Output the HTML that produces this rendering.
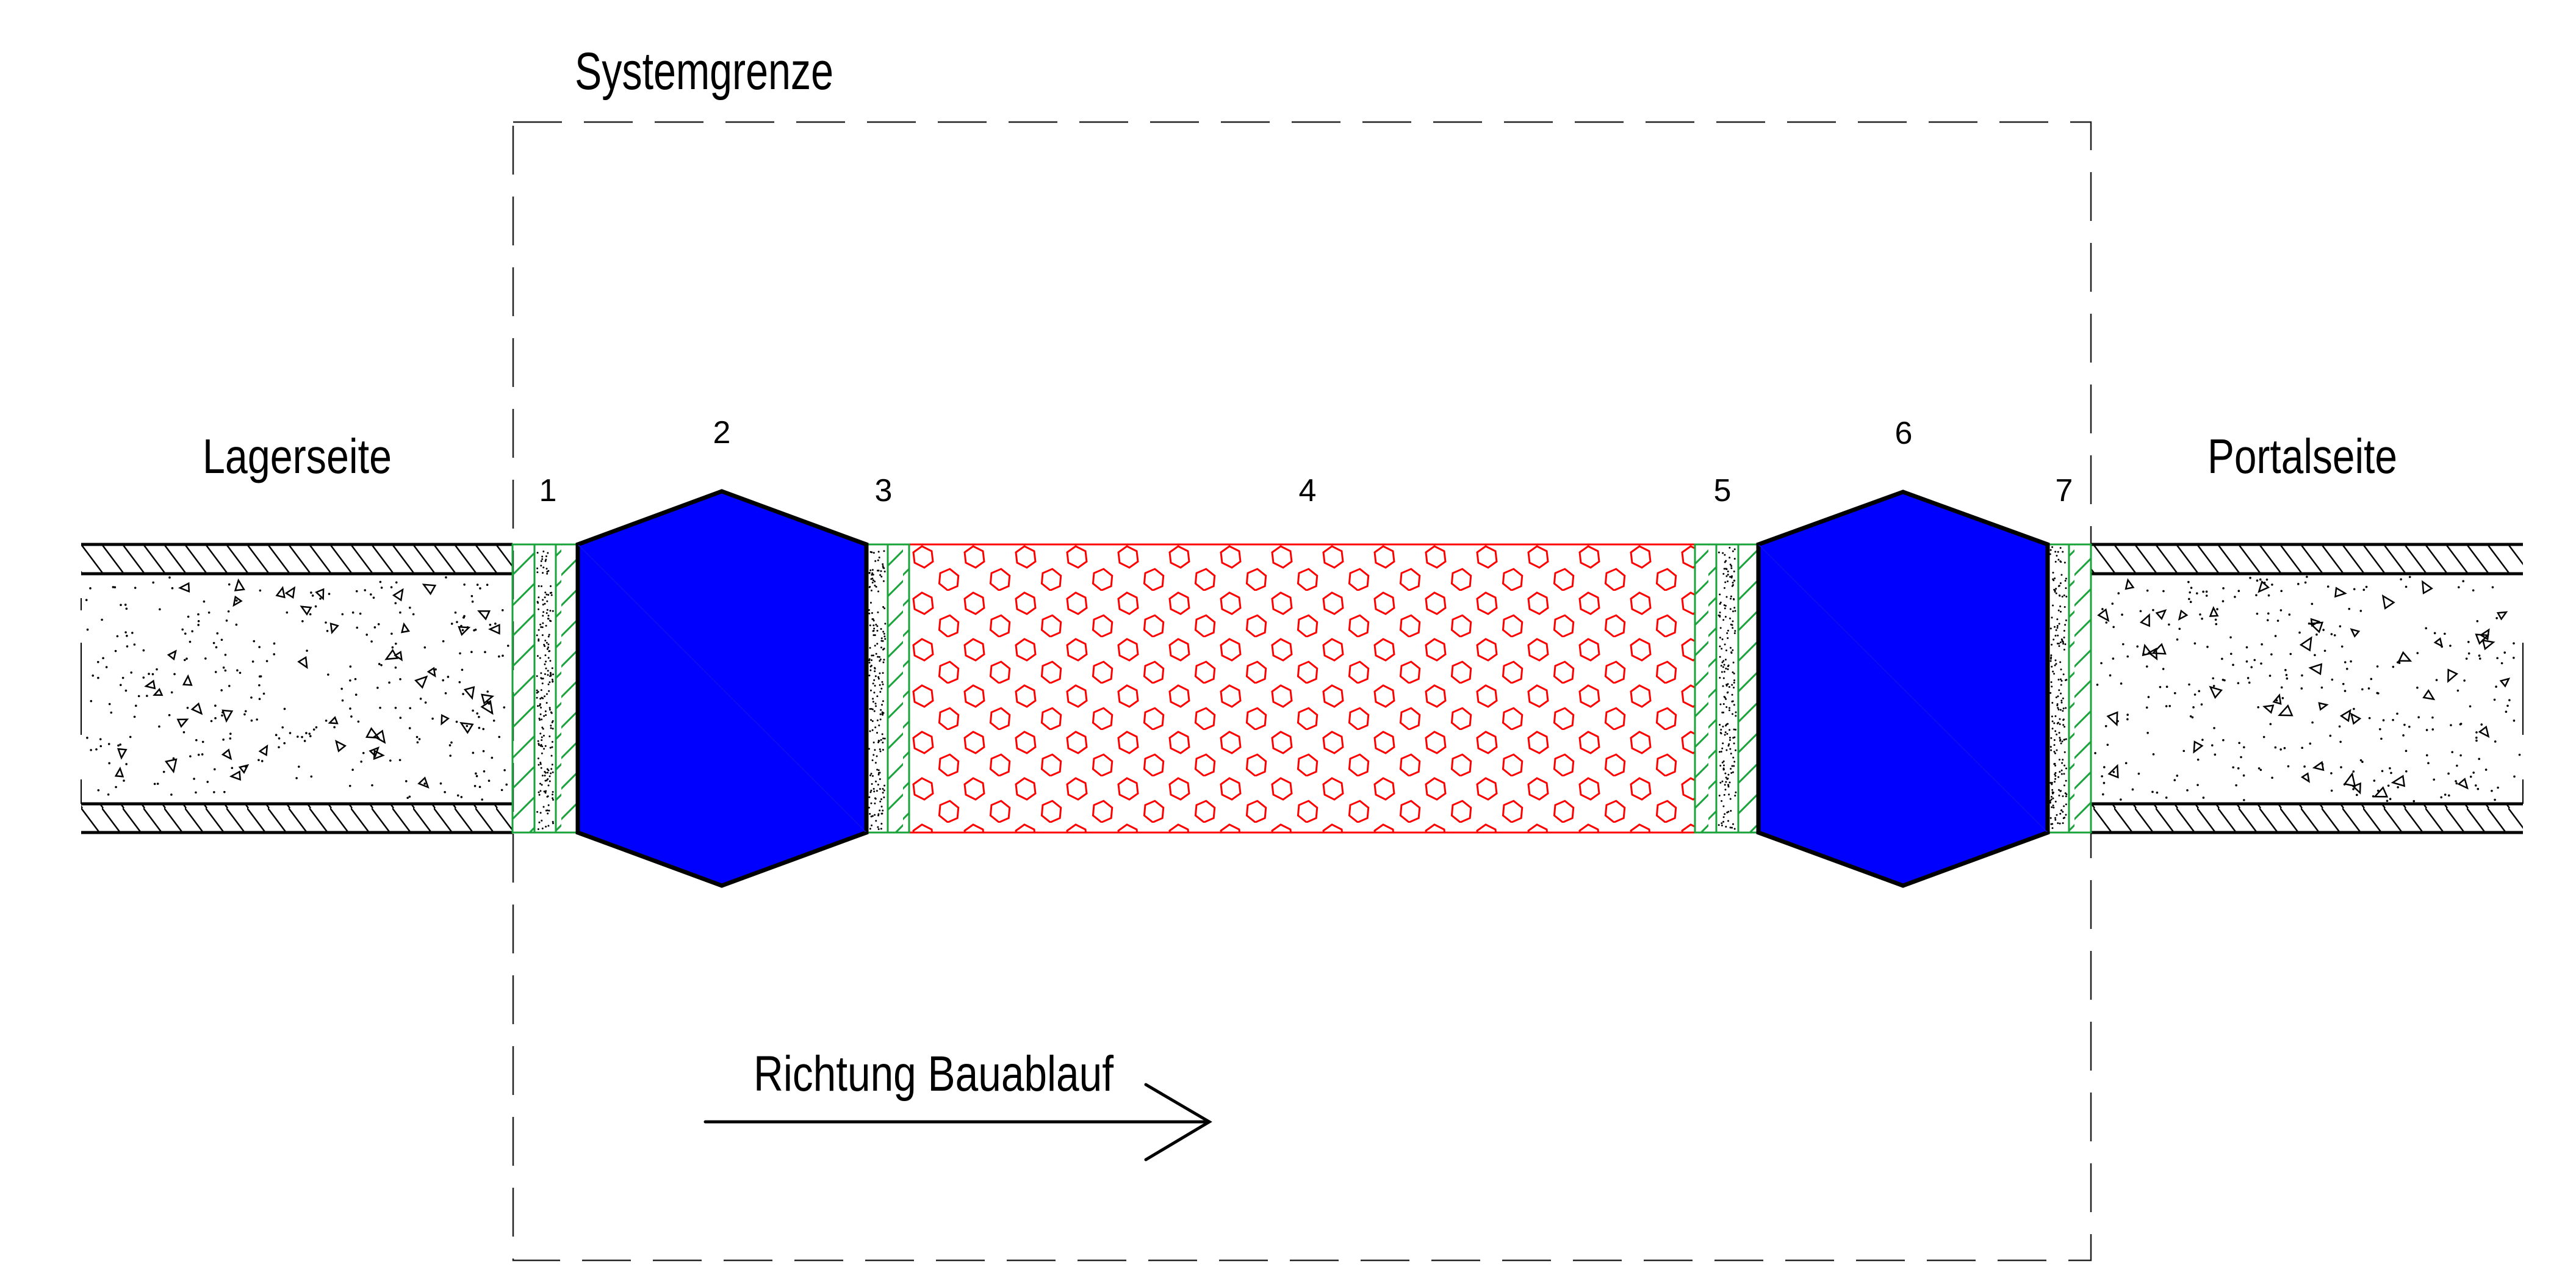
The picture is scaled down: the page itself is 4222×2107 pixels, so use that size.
<!DOCTYPE html>
<html><head><meta charset="utf-8">
<style>
html,body{margin:0;padding:0;background:#fff;}
svg{display:block;}
text{font-family:"Liberation Sans",Arial,sans-serif;fill:#000;}
</style></head>
<body>
<svg id="s" xmlns="http://www.w3.org/2000/svg" width="4222" height="2107" viewBox="0 0 4222 2107">
<defs>
  <pattern id="wallH" patternUnits="userSpaceOnUse" width="34" height="48" x="133" y="892">
    <line x1="0" y1="0" x2="36" y2="48" stroke="#000" stroke-width="2.5"/>
    <line x1="-34" y1="0" x2="2" y2="48" stroke="#000" stroke-width="2.5"/>
  </pattern>
  <pattern id="greenH" patternUnits="userSpaceOnUse" width="40" height="50" x="0" y="892">
    <line x1="-10" y1="60" x2="50" y2="0" stroke="#1aa33a" stroke-width="3"/>
    <line x1="-10" y1="10" x2="50" y2="-50" stroke="#1aa33a" stroke-width="3"/>
    <line x1="-10" y1="110" x2="50" y2="50" stroke="#1aa33a" stroke-width="3"/>
  </pattern>
  <pattern id="hexP" patternUnits="userSpaceOnUse" width="84" height="76" x="1490" y="892">
    <polygon points="19,2 35,10 37,27 23,37 7,29 5,12" fill="none" stroke="#ff0000" stroke-width="3" transform="translate(2,1)"/>
    <polygon points="19,2 35,10 37,27 23,37 7,29 5,12" fill="none" stroke="#ff0000" stroke-width="3" transform="translate(44,38) rotate(12 20 20)"/>
  </pattern>
</defs>

<rect x="841" y="200" width="2586" height="1865" fill="none" stroke="#222" stroke-width="2.5" stroke-dasharray="80 36"/>
<text x="942" y="146" font-size="86" textLength="424" lengthAdjust="spacingAndGlyphs">Systemgrenze</text>

<rect x="133" y="892" width="707" height="48" fill="url(#wallH)"/>
<rect x="133" y="1317" width="707" height="47" fill="url(#wallH)"/>
<g stroke="#000" stroke-width="5">
<line x1="133" y1="892" x2="840" y2="892"/><line x1="133" y1="940" x2="840" y2="940"/>
<line x1="133" y1="1317" x2="840" y2="1317"/><line x1="133" y1="1364" x2="840" y2="1364"/>
</g>
<g stroke="#000" stroke-width="2">
<line x1="133" y1="980" x2="133" y2="1000"/><line x1="133" y1="1053" x2="133" y2="1204"/><line x1="133" y1="1277" x2="133" y2="1317"/>
</g>
<rect x="3427" y="892" width="708" height="48" fill="url(#wallH)"/>
<rect x="3427" y="1317" width="708" height="47" fill="url(#wallH)"/>
<g stroke="#000" stroke-width="5">
<line x1="3427" y1="892" x2="4135" y2="892"/><line x1="3427" y1="940" x2="4135" y2="940"/>
<line x1="3427" y1="1317" x2="4135" y2="1317"/><line x1="3427" y1="1364" x2="4135" y2="1364"/>
</g>
<g stroke="#000" stroke-width="2">
<line x1="4135" y1="1053" x2="4135" y2="1204"/><line x1="4135" y1="1277" x2="4135" y2="1317"/>
</g>

<g id="conc"></g>

<rect x="1490" y="892" width="1288" height="472" fill="url(#hexP)"/>
<rect x="1490" y="892" width="1288" height="472" fill="none" stroke="#ff0000" stroke-width="3"/>

<g>
<rect x="840" y="892" width="36" height="472" fill="url(#greenH)"/>
<rect x="911" y="892" width="36" height="472" fill="url(#greenH)"/>
<rect x="1455" y="892" width="35" height="472" fill="url(#greenH)"/>
<rect x="2778" y="892" width="35" height="472" fill="url(#greenH)"/>
<rect x="2849" y="892" width="33" height="472" fill="url(#greenH)"/>
<rect x="3391" y="892" width="36" height="472" fill="url(#greenH)"/>
</g>
<g fill="none" stroke="#1aa33a" stroke-width="3">
<rect x="840" y="892" width="107" height="472"/>
<line x1="876" y1="892" x2="876" y2="1364"/><line x1="911" y1="892" x2="911" y2="1364"/>
<rect x="1420" y="892" width="70" height="472"/>
<line x1="1455" y1="892" x2="1455" y2="1364"/>
<rect x="2778" y="892" width="104" height="472"/>
<line x1="2813" y1="892" x2="2813" y2="1364"/><line x1="2849" y1="892" x2="2849" y2="1364"/>
<rect x="3356" y="892" width="71" height="472"/>
<line x1="3391" y1="892" x2="3391" y2="1364"/>
</g>
<g id="dots"></g>

<polygon points="947,892 1183,805 1420,892 1420,1364 1183,1451 947,1364" fill="#0000ff" stroke="#000" stroke-width="7" stroke-linejoin="miter"/>
<line x1="948" y1="893" x2="1419" y2="1363" stroke="#1010e8" stroke-width="1.5"/>
<polygon points="2882,892 3119,806 3356,892 3356,1364 3119,1451 2882,1364" fill="#0000ff" stroke="#000" stroke-width="7" stroke-linejoin="miter"/>
<line x1="2883" y1="893" x2="3355" y2="1363" stroke="#1010e8" stroke-width="1.5"/>

<text x="332" y="775" font-size="80" textLength="310" lengthAdjust="spacingAndGlyphs">Lagerseite</text>
<text x="3618" y="775" font-size="80" textLength="311" lengthAdjust="spacingAndGlyphs">Portalseite</text>
<g font-size="52" text-anchor="middle">
<text x="898" y="821">1</text>
<text x="1183" y="726">2</text>
<text x="1448" y="821">3</text>
<text x="2143" y="821">4</text>
<text x="2823" y="821">5</text>
<text x="3120" y="727">6</text>
<text x="3383" y="821">7</text>
</g>

<text x="1235" y="1787" font-size="82" textLength="590" lengthAdjust="spacingAndGlyphs">Richtung Bauablauf</text>
<g stroke="#000" stroke-width="5" stroke-linecap="round" fill="none">
<line x1="1156" y1="1838" x2="1982" y2="1838"/>
<polyline points="1878,1777 1982,1838 1878,1900"/>
</g>
</svg>
<script>
(function(){
var seed=12345;function r(){seed=(seed*16807)%2147483647;return seed/2147483647;}
var NS="http://www.w3.org/2000/svg";
var conc=document.getElementById("conc"),dots=document.getElementById("dots");
function dot(g,x,y,rad){var c=document.createElementNS(NS,"circle");c.setAttribute("cx",x);c.setAttribute("cy",y);c.setAttribute("r",rad);c.setAttribute("fill","#000");g.appendChild(c);}
function tri(g,x,y){var s=6+r()*4,a=r()*6.28,p=[];for(var i=0;i<3;i++){var b=a+i*2.094,k=(i==0?1.4:1);p.push((x+Math.cos(b)*s*k).toFixed(1)+","+(y+Math.sin(b)*s*k).toFixed(1));}
var t=document.createElementNS(NS,"polygon");t.setAttribute("points",p.join(" "));t.setAttribute("fill","none");t.setAttribute("stroke","#000");t.setAttribute("stroke-width","2.5");g.appendChild(t);}
[[140,835],[3432,4130]].forEach(function(w){
 for(var i=0;i<300;i++)dot(conc,w[0]+r()*(w[1]-w[0]),945+r()*368,1.8);
 for(var i=0;i<45;i++)tri(conc,w[0]+10+r()*(w[1]-w[0]-20),960+r()*340);
});
[[876,911],[1420,1455],[2813,2849],[3356,3391]].forEach(function(s){
 for(var i=0;i<200;i++)dot(dots,s[0]+4+r()*(s[1]-s[0]-8),896+r()*464,1.5);
});
})();
</script>
</body></html>
